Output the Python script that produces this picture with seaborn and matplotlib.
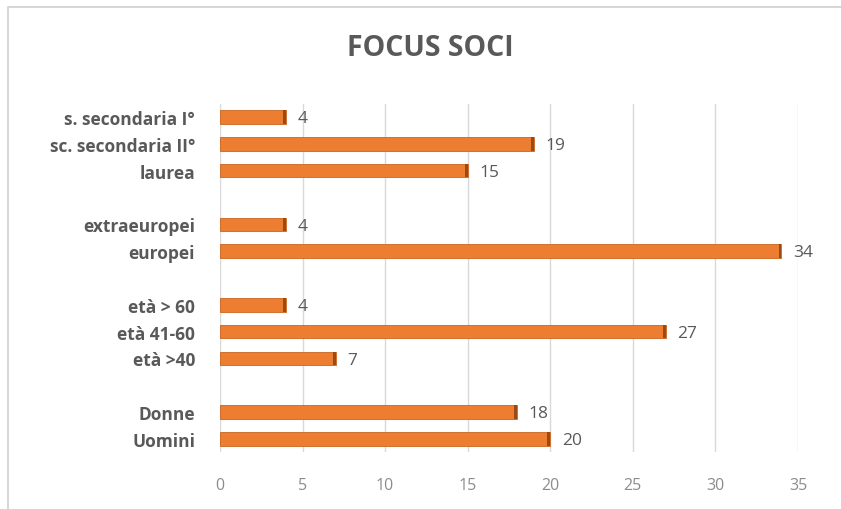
import numpy as np
import pandas as pd
import matplotlib
matplotlib.use("Agg")
import matplotlib.pyplot as plt
import seaborn as sns
from matplotlib.patches import Rectangle

# data, grouped as in the chart (top to bottom)
istruzione_labels = ["s. secondaria I°", "sc. secondaria II°", "laurea"]
istruzione_values = [4, 19, 15]
provenienza_labels = ["extraeuropei", "europei"]
provenienza_values = [4, 34]
eta_labels = ["età > 60", "età 41-60", "età >40"]
eta_values = [4, 27, 7]
genere_labels = ["Donne", "Uomini"]
genere_values = [18, 20]
x_ticks = [0, 5, 10, 15, 20, 25, 30, 35]

groups = [
    (istruzione_labels, istruzione_values),
    (provenienza_labels, provenienza_values),
    (eta_labels, eta_values),
    (genere_labels, genere_values),
]

# build one table, with an empty spacer row between groups
rows = []
for i, (labels, values) in enumerate(groups):
    if i > 0:
        rows.append({"categoria": " " * i, "soci": np.nan})
    for lab, val in zip(labels, values):
        rows.append({"categoria": lab, "soci": val})
df = pd.DataFrame(rows)

sns.set_theme(style="white")
plt.rcParams["font.family"] = ["Open Sans", "DejaVu Sans"]

fig = plt.figure(figsize=(8.41, 5.10), dpi=100)
ax = fig.add_axes([220 / 841, 0.111, (798 - 220) / 841, 0.795 - 0.111])

sns.barplot(data=df, x="soci", y="categoria", orient="h", order=list(df["categoria"]),
            color="#ED7D31", saturation=1, width=0.5, edgecolor="#C8641F",
            linewidth=0.6, ax=ax)

# darker end cap, like the 3D face in the original
for p in ax.patches:
    w = p.get_width()
    if np.isnan(w) or w == 0:
        continue
    ax.add_patch(Rectangle((w - 0.18, p.get_y()), 0.18, p.get_height(),
                           facecolor="#9C4A14", edgecolor="none", zorder=3))
    ax.text(w + 0.7, p.get_y() + p.get_height() / 2 + 0.05, f"{int(w)}",
            va="center", ha="left", fontsize=12.5, color="#595959")

ax.set_xlim(0, 35)
ax.set_xticks(x_ticks)
ax.set_xticklabels([str(t) for t in x_ticks], fontsize=11.5, color="#8C8C8C")
ax.tick_params(axis="x", length=0, pad=18)
ax.tick_params(axis="y", length=0, pad=18)
for lab in ax.get_yticklabels():
    lab.set_fontsize(12.5)
    lab.set_fontweight("bold")
    lab.set_color("#595959")
ax.set_xlabel("")
ax.set_ylabel("")
ax.grid(axis="x", color="#D9D9D9", linewidth=1)
ax.set_axisbelow(True)
sns.despine(ax=ax, left=True, bottom=True)

fig.text(430 / 841, 1 - 48 / 510, "FOCUS SOCI", ha="center", va="center",
         fontsize=20.5, fontweight="bold", color="#595959")

# light chart frame
fig.patches.append(Rectangle((8 / 841, -0.1), 1.0, 1 - 8 / 510 + 0.1,
                             transform=fig.transFigure, facecolor="none",
                             edgecolor="#D0D0D0", linewidth=1.2))

fig.savefig("out.png", dpi=100, facecolor="white")
